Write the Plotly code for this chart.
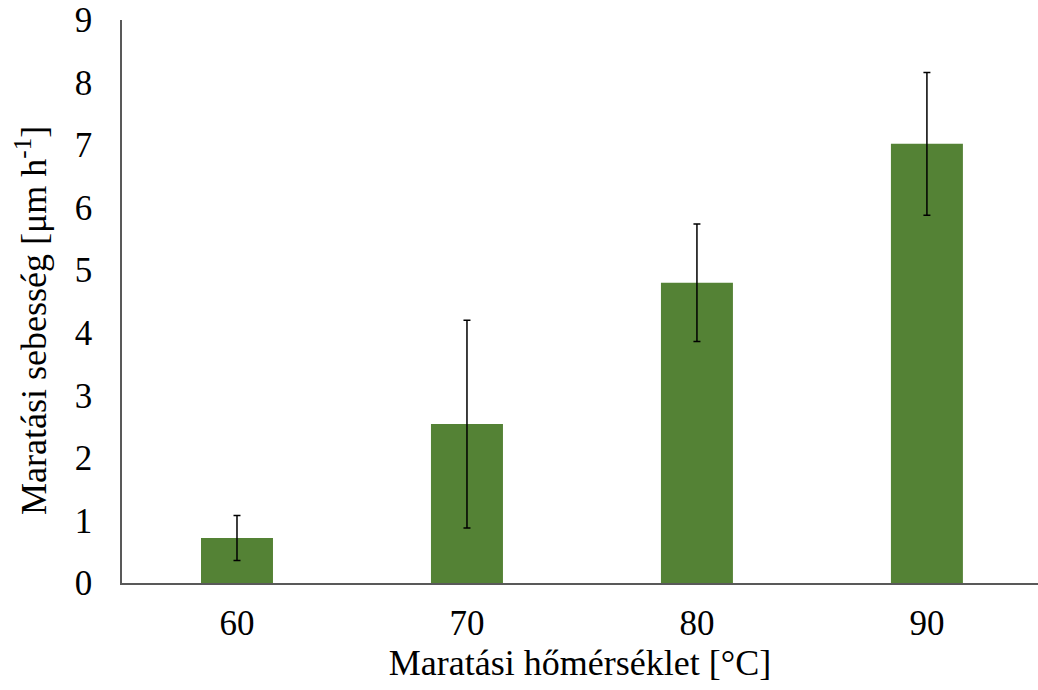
import plotly.graph_objects as go

# Etching temperature (°C) and etch rate (µm/h) with standard deviation
temperatures = ["60", "70", "80", "90"]
etch_rate = [0.72, 2.54, 4.80, 7.02]
etch_rate_sd = [0.36, 1.66, 0.94, 1.14]
y_ticks = [0, 1, 2, 3, 4, 5, 6, 7, 8, 9]

FONT = "Liberation Serif"
TICK_SIZE = 35
TITLE_SIZE = 36

fig = go.Figure(
    go.Bar(
        x=temperatures,
        y=etch_rate,
        width=0.313,
        marker=dict(color="#548235", line=dict(width=0)),
        error_y=dict(
            type="data",
            array=etch_rate_sd,
            visible=True,
            color="black",
            thickness=1.5,
            width=3.5,
        ),
    )
)

fig.update_layout(
    width=1038,
    height=690,
    margin=dict(l=122, r=0, t=20, b=107),
    paper_bgcolor="white",
    plot_bgcolor="white",
    showlegend=False,
    font=dict(family=FONT, size=TICK_SIZE, color="black"),
    xaxis=dict(
        type="category",
        range=[-0.5, 3.483],
        showline=True,
        linecolor="#595959",
        linewidth=1.5,
        showgrid=False,
        ticks="",
        ticklabelstandoff=8,
        tickfont=dict(family=FONT, size=TICK_SIZE, color="black"),
        title=dict(
            text="Maratási hőmérséklet [°C]",
            font=dict(family=FONT, size=TITLE_SIZE, color="black"),
            standoff=2,
        ),
    ),
    yaxis=dict(
        range=[0, 9],
        tickvals=y_ticks,
        showline=True,
        linecolor="#595959",
        linewidth=1.5,
        showgrid=False,
        zeroline=False,
        ticks="",
        ticklabelstandoff=21,
        tickfont=dict(family=FONT, size=TICK_SIZE, color="black"),
    ),
    # y-axis title placed as a rotated annotation, centred slightly below the plot middle
    annotations=[
        dict(
            text="Maratási sebesség [μm h<sup>-1</sup>]",
            xref="paper",
            yref="paper",
            x=-0.099,
            y=0.466,
            xanchor="center",
            yanchor="middle",
            textangle=-90,
            showarrow=False,
            font=dict(family=FONT, size=TITLE_SIZE, color="black"),
        )
    ],
)

fig.write_html("out.html")
